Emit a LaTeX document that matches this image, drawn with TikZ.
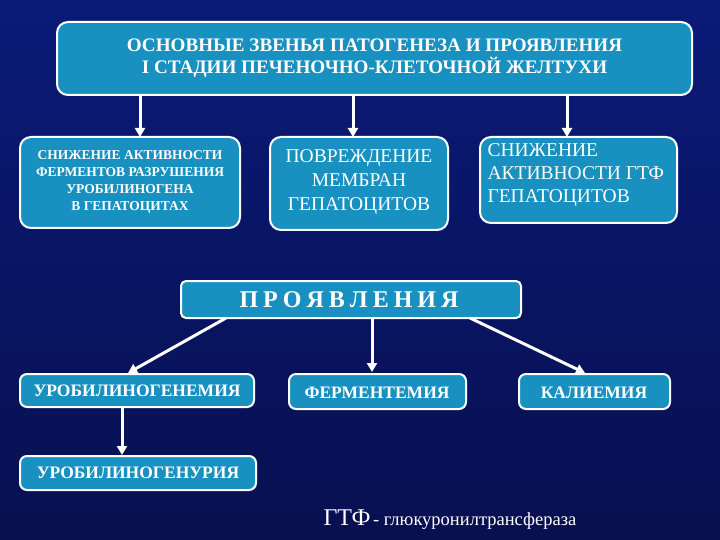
\documentclass[tikz,border=0pt]{standalone}
\usepackage{fontspec}
\setmainfont{Liberation Serif}
\usetikzlibrary{arrows.meta}
\definecolor{bgA}{HTML}{0A1A78}
\definecolor{bgB}{HTML}{081050}
\definecolor{boxc}{HTML}{1890C0}
\tikzset{x=1pt,y=-1pt,
 bx/.style={draw=white,line width=2pt,fill=boxc,rounded corners=11pt},
 tx/.style={text=white,align=center,font=\bfseries},
 ar/.style={white,line width=3pt,-{Triangle[length=9pt,width=10pt]}}}
\begin{document}
\begin{tikzpicture}
\shade[top color=bgA,bottom color=bgB] (0,0) rectangle (720,540);
\useasboundingbox (0,0) rectangle (720,540);
\draw[bx] (57,22) rectangle (692,95);
\node[tx,font=\bfseries\fontsize{19.5}{23}\selectfont,scale=0.98] (top) at (374.5,58) {ОСНОВНЫЕ ЗВЕНЬЯ ПАТОГЕНЕЗА И ПРОЯВЛЕНИЯ\\I СТАДИИ ПЕЧЕНОЧНО-КЛЕТОЧНОЙ ЖЕЛТУХИ};
\coordinate (tb1) at (140,95);\coordinate (tb2) at (353,95);\coordinate (tb3) at (567,95);
\draw[bx] (20,137) rectangle (240,228);
\node[tx,font=\bfseries\fontsize{13.5}{17}\selectfont] (b1) at (130,182) {СНИЖЕНИЕ АКТИВНОСТИ\\ФЕРМЕНТОВ РАЗРУШЕНИЯ\\УРОБИЛИНОГЕНА\\В ГЕПАТОЦИТАХ};
\draw[bx] (270,137) rectangle (448,230);
\node[tx,font=\fontsize{19.5}{24}\selectfont] (b2) at (359,182) {ПОВРЕЖДЕНИЕ\\МЕМБРАН\\ГЕПАТОЦИТОВ};
\draw[bx] (480,137) rectangle (677,223);
\node[tx,font=\fontsize{19.5}{23}\selectfont,align=left,anchor=north west] (b3) at (484,140) {СНИЖЕНИЕ\\АКТИВНОСТИ ГТФ\\ГЕПАТОЦИТОВ};
\coordinate (e1) at (140,137);\coordinate (e2) at (353,137);\coordinate (e3) at (567,137);
\draw[ar] (tb1)--(e1); \draw[ar] (tb2)--(e2); \draw[ar] (tb3)--(e3);
\draw[bx,rounded corners=5pt] (181,281) rectangle (521,318);
\node[tx,font=\bfseries\fontsize{24}{26}\selectfont] (pr) at (349,299.5) {П\hspace{5pt}Р\hspace{5pt}О\hspace{5pt}Я\hspace{5pt}В\hspace{5pt}Л\hspace{5pt}Е\hspace{5pt}Н\hspace{5pt}И\hspace{5pt}Я};
\draw[bx,rounded corners=7pt] (20,374) rectangle (254,407);
\node[tx,font=\bfseries\fontsize{17.5}{19}\selectfont] (u1) at (137,391) {УРОБИЛИНОГЕНЕМИЯ};
\draw[bx,rounded corners=7pt] (289,374) rectangle (466,409);
\node[tx,font=\bfseries\fontsize{17.5}{19}\selectfont] (f) at (377,393) {ФЕРМЕНТЕМИЯ};
\draw[bx,rounded corners=7pt] (519,374) rectangle (670,409);
\node[tx,font=\bfseries\fontsize{17.5}{19}\selectfont] (k) at (594,393) {КАЛИЕМИЯ};
\draw[bx,rounded corners=7pt] (20,456) rectangle (256,490);
\node[tx,font=\bfseries\fontsize{17.5}{19}\selectfont] (u2) at (138,473) {УРОБИЛИНОГЕНУРИЯ};
\coordinate (p1) at (226,318);\coordinate (p2) at (372,318);\coordinate (p3) at (470,318);
\coordinate (q1) at (128,373);\coordinate (q2) at (372,372);\coordinate (q3) at (585,373);
\draw[ar] (p1)--(q1); \draw[ar] (p2)--(q2); \draw[ar] (p3)--(q3);
\coordinate (r1) at (122,407);\coordinate (r2) at (122,455);
\draw[ar] (r1)--(r2);
\node[text=white,anchor=west] (leg) at (320,520) {{\fontsize{24}{26}\selectfont ГТФ} {\fontsize{18.5}{20}\selectfont - глюкуронилтрансфераза}};
\end{tikzpicture}
\end{document}
